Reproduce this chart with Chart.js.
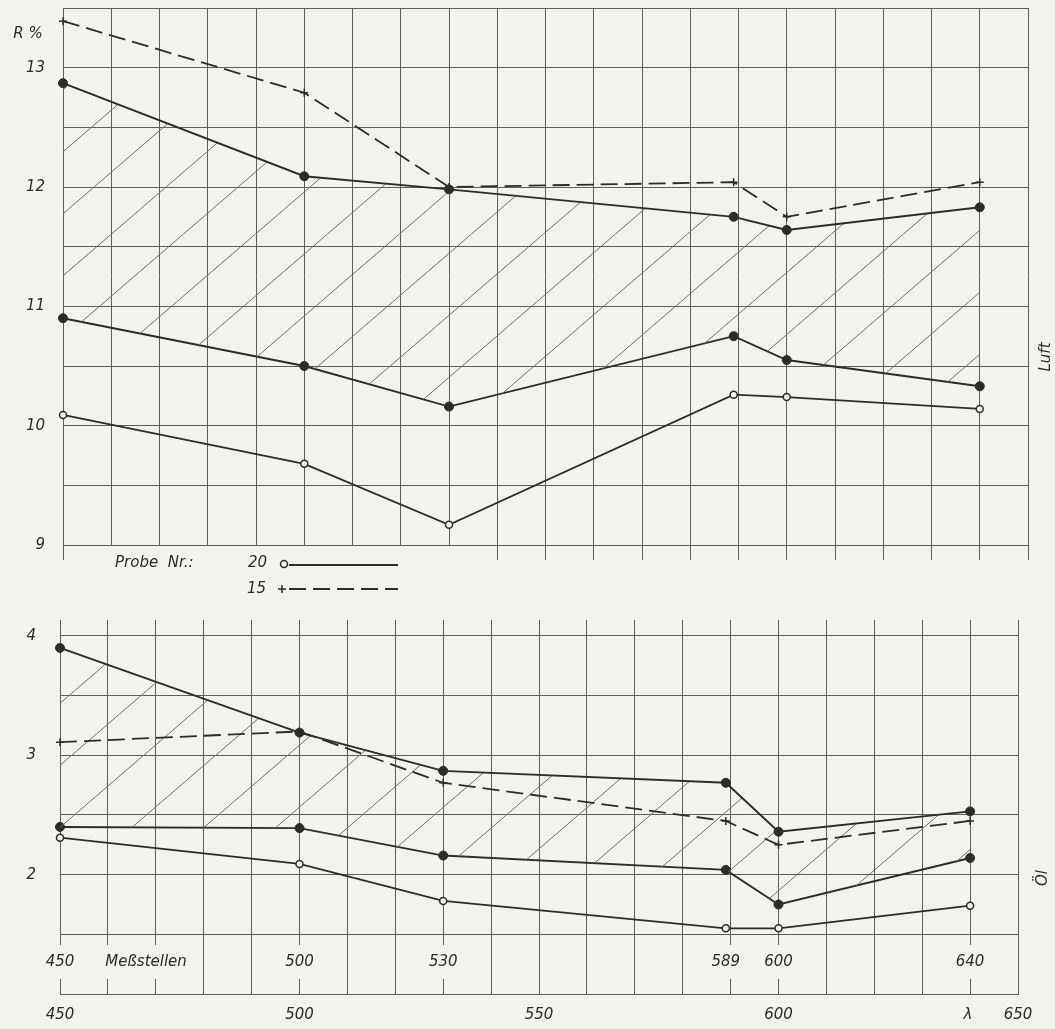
<!DOCTYPE html>
<html lang="de">
<head>
<meta charset="utf-8">
<title>Reflexion R % – Luft und Öl</title>
<script src="https://cdn.jsdelivr.net/npm/chart.js@4.4.1/dist/chart.umd.min.js"></script>
<style>
  html, body { margin: 0; padding: 0; background: #f3f3ee; }
  #blatt { position: relative; width: 1055px; height: 1029px; overflow: hidden; }
  canvas { position: absolute; left: 0; }
  #luft { top: 0; }
  #oel { top: 600px; }
</style>
</head>
<body>
<div id="blatt">
  <canvas id="luft" width="1055" height="600"></canvas>
  <canvas id="oel" width="1055" height="429"></canvas>
</div>
<script>
"use strict";

// Messstellen (Wellenlaenge in nm)
const messstellen = [450, 500, 530, 589, 600, 640];

// Luft, R %
const luftProbe15 = [13.39, 12.79, 12.0, 12.04, 11.75, 12.04];
const luftOben    = [12.87, 12.09, 11.98, 11.75, 11.64, 11.83];
const luftUnten   = [10.90, 10.50, 10.16, 10.75, 10.55, 10.33];
const luftProbe20 = [10.09, 9.68, 9.17, 10.26, 10.24, 10.14];

// Öl, R %
const oelProbe15 = [3.11, 3.20, 2.77, 2.45, 2.25, 2.45];
const oelOben    = [3.90, 3.19, 2.87, 2.77, 2.36, 2.53];
const oelUnten   = [2.40, 2.39, 2.16, 2.04, 1.75, 2.14];
const oelProbe20 = [2.31, 2.09, 1.78, 1.55, 1.55, 1.74];

// Achsenbeschriftung
const luftTicks = [9, 10, 11, 12, 13];
const oelTicks = [2, 3, 4];
const oelGitter = [1, 1.5, 2, 2.5, 3, 3.5, 4];
const lambdaTicks = [450, 500, 550, 600, 650];

const tinte = '#2c2c2c';
const gitter = '#5e5e5e';
const papier = '#f3f3ee';
const schrift = 'italic 15px "DejaVu Sans"';

// diagonale Schraffur als Muster
function schraffur(canvas, versatz) {
    const w = 72, h = 62;
    const c = document.createElement('canvas');
    c.width = w; c.height = h;
    const g = c.getContext('2d');
    g.strokeStyle = '#707070';
    g.lineWidth = 1;
    [-w, 0, w].forEach(dx => {
        g.beginPath();
        g.moveTo(dx, h);
        g.lineTo(dx + w, 0);
        g.stroke();
    });
    const muster = canvas.getContext('2d').createPattern(c, 'repeat');
    muster.setTransform(new DOMMatrix().translate(0, versatz));
    return muster;
}

function datensaetze(p15, oben, unten, p20, muster) {
    const punkte = werte => werte.map((y, i) => ({ x: messstellen[i], y: y }));
    return [
        {
            label: 'Probe 15', data: punkte(p15),
            borderColor: tinte, borderWidth: 1.8, borderDash: [17, 7],
            pointStyle: 'cross', pointRadius: 4, pointBorderWidth: 1.5,
            pointBorderColor: tinte, fill: false, clip: false
        },
        {
            label: 'oben', data: punkte(oben),
            borderColor: tinte, borderWidth: 1.9,
            pointRadius: 4.5, pointBorderWidth: 1,
            pointBackgroundColor: tinte, pointBorderColor: tinte,
            fill: { target: '+1', above: muster, below: muster }, clip: false
        },
        {
            label: 'unten', data: punkte(unten),
            borderColor: tinte, borderWidth: 1.9,
            pointRadius: 4.5, pointBorderWidth: 1,
            pointBackgroundColor: tinte, pointBorderColor: tinte,
            fill: false, clip: false
        },
        {
            label: 'Probe 20', data: punkte(p20),
            borderColor: tinte, borderWidth: 1.8,
            pointRadius: 3.5, pointBorderWidth: 1.5,
            pointBackgroundColor: papier, pointBorderColor: tinte,
            fill: false, clip: false
        }
    ];
}

function senkrecht(g, text, x, y) {
    g.save();
    g.translate(x, y);
    g.rotate(-Math.PI / 2);
    g.fillText(text, 0, 0);
    g.restore();
}

// y-Achse: feste Breite, kein Zusatzabstand oben/unten
function festeBreite(breite) {
    return s => {
        s.width = breite;
        s.paddingTop = 0;
        s.paddingBottom = 0;
    };
}

// Beschriftung oben: R %, Luft, Legende
const beschriftungLuft = {
    id: 'beschriftungLuft',
    afterDraw(chart) {
        const g = chart.ctx;
        g.save();
        g.font = schrift;
        g.fillStyle = tinte;
        g.strokeStyle = tinte;
        g.textBaseline = 'middle';
        g.textAlign = 'center';
        g.fillText('R %', 28, 34);
        senkrecht(g, 'Luft', 1046, 357);

        g.textAlign = 'left';
        g.fillText('Probe  Nr.:', 115, 563);
        g.fillText('20', 248, 563);
        g.fillText('15', 247, 589);

        g.lineWidth = 1.8;
        g.beginPath();
        g.moveTo(289, 565); g.lineTo(398, 565);
        g.stroke();
        g.setLineDash([17, 7]);
        g.beginPath();
        g.moveTo(289, 589); g.lineTo(398, 589);
        g.stroke();
        g.setLineDash([]);

        g.lineWidth = 1.5;
        g.fillStyle = papier;
        g.beginPath();
        g.arc(284, 564, 3.5, 0, Math.PI * 2);
        g.fill(); g.stroke();
        g.beginPath();
        g.moveTo(278, 589); g.lineTo(286, 589);
        g.moveTo(282, 585); g.lineTo(282, 593);
        g.stroke();
        g.restore();
    }
};

// Beschriftung unten: Messstellen, lambda, Öl
const beschriftungOel = {
    id: 'beschriftungOel',
    afterDraw(chart) {
        const g = chart.ctx;
        const x = chart.scales.x;
        const y = 362;
        g.save();
        g.font = schrift;
        g.textAlign = 'center';
        g.textBaseline = 'middle';
        const texte = messstellen.map(m => ({ t: String(m), px: x.getPixelForValue(m) }));
        texte.splice(1, 0, { t: 'Meßstellen', px: 146 });
        texte.forEach(e => {
            const w = g.measureText(e.t).width;
            g.fillStyle = papier;
            g.fillRect(e.px - w / 2 - 4, y - 17, w + 8, 34);
            g.fillStyle = tinte;
            g.fillText(e.t, e.px, y);
        });
        g.fillText('λ', 968, 415);
        senkrecht(g, 'Öl', 1043, 278);
        g.restore();
    }
};

const tickFont = { family: 'DejaVu Sans', size: 15, style: 'italic' };

// Luft
const cLuft = document.getElementById('luft');
new Chart(cLuft, {
    type: 'line',
    data: { datasets: datensaetze(luftProbe15, luftOben, luftUnten, luftProbe20, schraffur(cLuft, 20)) },
    options: {
        responsive: false,
        animation: false,
        events: [],
        layout: { padding: { top: 8, right: 27, left: 0, bottom: 0 } },
        plugins: { legend: { display: false }, tooltip: { enabled: false } },
        scales: {
            x: {
                type: 'linear', min: 450, max: 650,
                ticks: { stepSize: 10, display: false, autoSkip: false },
                grid: {
                    color: gitter, lineWidth: 1, tickLength: 15,
                    tickColor: ctx => (ctx.tick && (ctx.tick.value >= 540 || ctx.tick.value === 450)) ? gitter : 'rgba(0,0,0,0)'
                },
                border: { color: gitter },
                afterFit: s => { s.height = 55; s.paddingLeft = 0; s.paddingRight = 0; }
            },
            y: {
                min: 9, max: 13.5,
                ticks: {
                    stepSize: 0.5, padding: 18, color: tinte, font: tickFont,
                    callback: v => luftTicks.includes(v) ? String(v) : ''
                },
                grid: { color: gitter, lineWidth: 1, drawTicks: false },
                border: { color: gitter },
                afterFit: festeBreite(63)
            }
        }
    },
    plugins: [beschriftungLuft]
});

// Öl
const cOel = document.getElementById('oel');
new Chart(cOel, {
    type: 'line',
    data: { datasets: datensaetze(oelProbe15, oelOben, oelUnten, oelProbe20, schraffur(cOel, 31)) },
    options: {
        responsive: false,
        animation: false,
        events: [],
        layout: { padding: { top: 20, right: 37, left: 0, bottom: 0 } },
        plugins: { legend: { display: false }, tooltip: { enabled: false } },
        scales: {
            x: {
                type: 'linear', min: 450, max: 650,
                ticks: {
                    stepSize: 10, autoSkip: false, maxRotation: 0, padding: 12,
                    color: tinte, font: tickFont,
                    callback: v => lambdaTicks.includes(v) ? String(v) : ''
                },
                grid: { color: gitter, lineWidth: 1, drawTicks: false },
                border: { color: gitter },
                afterFit: s => { s.height = 35; s.paddingLeft = 0; s.paddingRight = 0; }
            },
            y: {
                min: 1, max: 4.134,
                afterBuildTicks: s => { s.ticks = oelGitter.map(v => ({ value: v })); },
                ticks: {
                    padding: 24, color: tinte, font: tickFont,
                    callback: v => oelTicks.includes(v) ? String(v) : ''
                },
                grid: { color: gitter, lineWidth: 1, drawTicks: false },
                border: { color: gitter },
                afterFit: festeBreite(60)
            }
        }
    },
    plugins: [beschriftungOel]
});
</script>
</body>
</html>
